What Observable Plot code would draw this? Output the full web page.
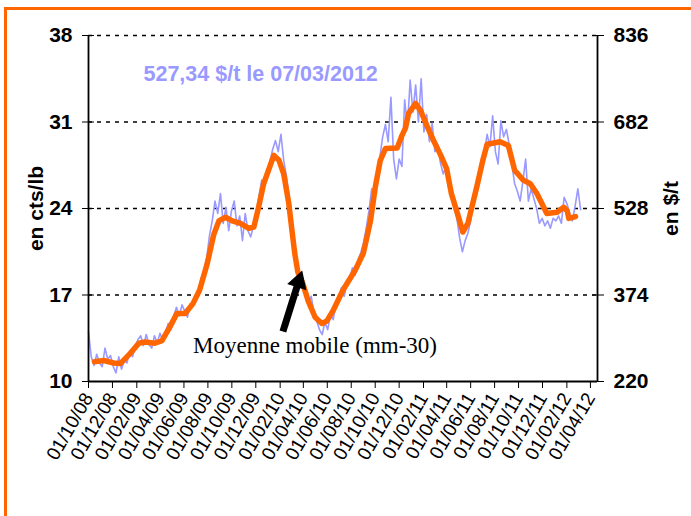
<!DOCTYPE html>
<html><head><meta charset="utf-8">
<script src="https://cdn.jsdelivr.net/npm/d3@7"></script>
<script src="https://cdn.jsdelivr.net/npm/@observablehq/plot@0.6"></script>
<style>
body{margin:0;background:#fff;}
#wrap{position:relative;width:691px;height:516px;overflow:hidden;font-family:"Liberation Sans",Arial,sans-serif;}
#frame{position:absolute;left:4px;top:7px;width:720px;height:540px;border:3px solid #FF6600;box-sizing:border-box;}
#chart{position:absolute;left:0;top:0;}
</style></head><body>
<div id="wrap"><div id="frame"></div><div id="chart"></div></div>
<script>
// Raw price (cts/lb), weekly readings starting 01/10/2008
const blueStart = "2008-10-01";
const blueValues = [14.0,12.0,11.3,12.2,11.5, 11.2,12.7,11.8,12.1, 11.2,10.7,12.0,11.0,11.7,
 11.5,12.5,12.0,12.8, 13.4,13.7,12.9,13.8, 13.0,12.7,13.7,13.1, 13.9,13.3,14.0,14.7,14.2,
 15.3,16.0,15.3,16.2, 15.7,15.2,16.3,16.1, 16.9,17.3,18.4,19.0,20.0, 21.8,23.0,24.6,23.6,
 25.2,22.8,24.1,22.2,23.8, 24.6,22.6,23.4,21.4, 23.6,22.2,21.7,22.6, 23.6,25.0,26.3,25.8,27.1,
 27.8,28.8,29.5,28.6, 30.0,27.9,26.6,25.0, 22.6,20.8,19.4,18.4,18.0, 17.4,16.3,16.9,15.6,
 14.9,14.2,13.8,14.8, 14.2,15.4,15.0,16.2,16.6, 17.6,16.9,17.9,18.4, 19.2,18.6,19.8,20.4,
 21.2,22.4,23.8,25.6,24.6, 26.2,28.2,29.8,30.8, 29.4,33.0,28.0,26.4, 28.0,27.4,32.8,30.6,34.4,
 31.8,34.0,31.0,34.5, 30.2,31.6,29.4,30.9, 28.6,29.2,27.7,26.8,27.4, 26.2,25.0,24.2,23.2,
 21.6,20.5,21.4,22.0, 23.0,24.6,25.4,26.8,28.0, 28.6,30.0,29.0,31.5, 28.6,27.6,31.1,29.8,30.4,
 29.2,27.6,26.0,25.4, 24.6,26.2,28.0,24.6, 25.6,24.8,24.0,22.8,23.2, 22.6,23.0,22.4,23.2,
 23.0,23.4,22.8,24.9, 24.4,23.6,23.0,24.2,25.6, 23.9];

// Moving average mm-30 (cts/lb)
const orangeDates = ["2008-10-16","2008-11-09","2008-12-04","2008-12-21","2009-01-16","2009-02-06","2009-02-22","2009-03-19","2009-04-06","2009-04-26","2009-05-14","2009-06-04","2009-06-24","2009-07-11","2009-07-30","2009-08-16","2009-08-29","2009-09-15","2009-10-02","2009-10-23","2009-11-13","2009-11-26","2009-12-08","2009-12-21","2010-01-08","2010-01-16","2010-01-29","2010-02-10","2010-02-23","2010-03-02","2010-03-10","2010-03-18","2010-03-31","2010-04-13","2010-05-01","2010-05-18","2010-05-31","2010-06-16","2010-07-11","2010-08-11","2010-09-01","2010-09-19","2010-10-01","2010-10-14","2010-10-27","2010-11-26","2010-12-08","2010-12-17","2010-12-25","2011-01-12","2011-01-25","2011-02-11","2011-02-28","2011-03-17","2011-04-01","2011-04-13","2011-05-04","2011-05-12","2011-05-25","2011-06-17","2011-07-02","2011-07-13","2011-08-15","2011-09-05","2011-09-21","2011-10-13","2011-10-31","2011-11-17","2011-12-12","2012-01-07","2012-01-24","2012-02-02","2012-02-06","2012-02-23"];
const orangeValues = [11.6,11.7,11.5,11.45,12.3,13.1,13.2,13.1,13.3,14.4,15.5,15.5,16.3,17.4,19.5,21.9,23.0,23.3,23.0,22.8,22.4,22.5,24.1,26.0,27.6,28.3,27.9,26.8,24.4,22.5,20.4,18.85,17.9,16.55,15.2,14.7,14.9,15.75,17.4,19.0,20.4,23.0,25.7,27.9,28.85,28.9,29.9,30.5,31.7,32.5,31.9,30.6,29.4,28.3,27.2,25.2,23.0,22.1,22.8,25.8,27.9,29.2,29.4,29.1,27.1,26.3,26.0,25.2,23.6,23.7,24.1,23.8,23.2,23.35];

const xDomain = ["2008-10-01","2012-04-19"];
const tickDates = ["2008-10-01","2008-12-01","2009-02-01","2009-04-01","2009-06-01","2009-08-01","2009-10-01","2009-12-01","2010-02-01","2010-04-01","2010-06-01","2010-08-01","2010-10-01","2010-12-01","2011-02-01","2011-04-01","2011-06-01","2011-08-01","2011-10-01","2011-12-01","2012-02-01","2012-04-01"];
const tickLabels = ["01/10/08","01/12/08","01/02/09","01/04/09","01/06/09","01/08/09","01/10/09","01/12/09","01/02/10","01/04/10","01/06/10","01/08/10","01/10/10","01/12/10","01/02/11","01/04/11","01/06/11","01/08/11","01/10/11","01/12/11","01/02/12","01/04/12"];
const leftTicks = [10,17,24,31,38];
const rightLabels = ["220","374","528","682","836"];

// annotations (data coordinates)
const priceNote = [{date:"2009-02-18", v:34.9, text:"527,34 $/t le 07/03/2012"}];
const maNote = [{date:"2009-06-24", v:12.9, text:"Moyenne mobile (mm-30)"}];
const arrowTail = {date:"2010-02-08", v:14.05};
const arrowHead = {date:"2010-03-20", v:18.09};

const P = s => new Date(s + "T00:00:00Z");
const blue = blueValues.map((v,i) => ({date: d3.utcDay.offset(P(blueStart), 7*i), v}));
const orange = orangeDates.map((d,i) => ({date: P(d), v: orangeValues[i]}));
const ticks = tickDates.map(P);
const dom = xDomain.map(P);

const chart = Plot.plot({
  width: 691, height: 516,
  marginTop: 35, marginRight: 94, marginBottom: 135, marginLeft: 88,
  x: {type: "utc", domain: dom},
  y: {domain: [10, 38]},
  style: {fontFamily: "'Liberation Sans', Arial, sans-serif", color: "black", background: "transparent", overflow: "visible"},
  marks: [
    Plot.ruleY(leftTicks.slice(1), {stroke: "black", strokeWidth: 1.6, strokeDasharray: "4,5"}),
    Plot.line(blue, {x: "date", y: "v", stroke: "#9999FF", strokeWidth: 1.6}),
    Plot.line(orange, {x: "date", y: "v", stroke: "#FF6600", strokeWidth: 5.5, strokeLinejoin: "round"}),
    Plot.ruleX(dom, {stroke: "black", strokeWidth: 1.8}),
    Plot.ruleY([10], {stroke: "black", strokeWidth: 1.8}),
    Plot.axisY({anchor: "left", ticks: leftTicks, tickSize: 6, tickPadding: 10, tickWidth: 1.8,
      fontSize: 21, fontWeight: "bold", label: "en cts/lb", labelAnchor: "center", labelArrow: "none", labelOffset: 60}),
    Plot.axisY({anchor: "left", ticks: leftTicks, tickSize: 6, dx: 6, tickFormat: () => "", label: null}),
    Plot.axisY({anchor: "right", ticks: leftTicks, tickSize: 6, tickPadding: 10, tickFormat: (d,i) => rightLabels[leftTicks.indexOf(d)],
      fontSize: 21, fontWeight: "bold", label: "en $/t", labelAnchor: "center", labelArrow: "none", labelOffset: 80}),
    Plot.axisY({anchor: "right", ticks: leftTicks, tickSize: 6, dx: -6, tickFormat: () => "", label: null}),
    Plot.axisX({ticks: ticks, tickFormat: d => tickLabels[ticks.findIndex(t => +t === +d)], tickSize: 7, tickPadding: 6, tickRotate: -60,
      fontSize: 19, label: null}),
    Plot.text(priceNote, {x: d => P(d.date), y: "v", text: "text", textAnchor: "start", fill: "#9999FF", fontSize: 21.5, fontWeight: "bold"}),
    Plot.text(maNote, {x: d => P(d.date), y: "v", text: "text", textAnchor: "start", fill: "black", fontSize: 23, fontFamily: "'Liberation Serif', 'Times New Roman', serif"}),
    Plot.link([{}], {x1: () => P(arrowTail.date), y1: () => arrowTail.v, x2: () => P(arrowHead.date), y2: () => arrowHead.v, stroke: "black", strokeWidth: 7}),
    Plot.dot([arrowHead], {x: d => P(d.date), y: "v", symbol: "triangle", r: 7.5, fill: "black", stroke: "none", rotate: 18})
  ]
});
document.getElementById("chart").appendChild(chart);
</script>
</body></html>
